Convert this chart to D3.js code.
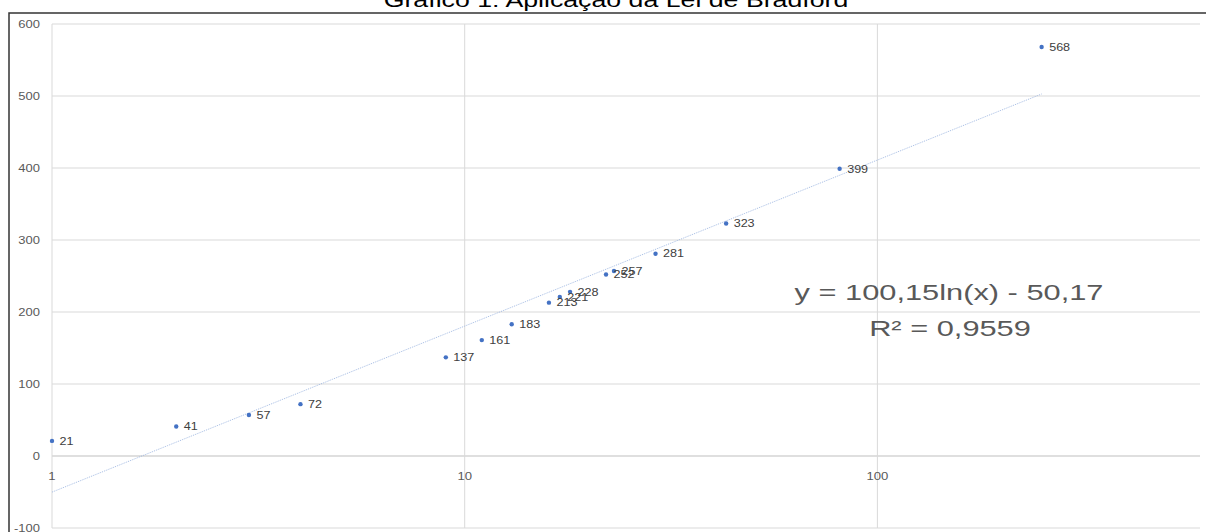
<!DOCTYPE html>
<html>
<head>
<meta charset="utf-8">
<script src="https://cdn.jsdelivr.net/npm/d3@7"></script>
<style>
  html, body { margin: 0; padding: 0; background: #fff; }
  svg { display: block; }
</style>
</head>
<body>
<svg id="chart" width="1206" height="532"></svg>
<script>
// Bradford's law: cumulative journals (log x) vs cumulative articles (y)
const chartTitle = "Gráfico 1: Aplicação da Lei de Bradford";
const journals = [1, 2, 3, 4, 9, 11, 13, 16, 17, 18, 22, 23, 29, 43, 81, 250];
const articles = [21, 41, 57, 72, 137, 161, 183, 213, 221, 228, 252, 257, 281, 323, 399, 568];
const yTicks = [-100, 0, 100, 200, 300, 400, 500, 600];
const xTicks = [1, 10, 100, 1000];
const xTickLabels = ["1", "10", "100", "1000"];

// logarithmic trend line y = a·ln(x) + b
const trendA = 100.15;
const trendB = -50.17;
const trendLabel = "y = 100,15ln(x) - 50,17";
const r2Label = "R² = 0,9559";

const W = 1206, H = 532;
const plotLeft = 52, plotRight = 1200, plotTop = 24, plotBottom = 528;
const decade = 412.7;

const x = d3.scaleLog().domain([1, 1000]).range([plotLeft, plotLeft + 3 * decade]);
const y = d3.scaleLinear().domain([-100, 600]).range([plotBottom, plotTop]);

const svg = d3.select("#chart");
const FONT = "'Liberation Sans', Arial, sans-serif";
const EQ_FONT = "'Open Sans', 'Liberation Sans', sans-serif";

// text drawn with a horizontal stretch
function stretchedText(g, px, py, str, o) {
  return g.append("text")
    .attr("transform", `translate(${px},${py}) scale(${o.sx},1)`)
    .attr("text-anchor", o.anchor || "start")
    .attr("font-family", o.family || FONT)
    .attr("font-size", o.size)
    .attr("fill", o.fill)
    .text(str);
}

// horizontal gridlines
const grid = svg.append("g");
grid.selectAll("line.h").data(yTicks).join("line")
  .attr("class", "h")
  .attr("x1", plotLeft).attr("x2", plotRight)
  .attr("y1", d => y(d)).attr("y2", d => y(d))
  .attr("stroke", d => d === 0 ? "#bfbfbf" : "#d9d9d9")
  .attr("stroke-width", 1);

// vertical gridlines
grid.selectAll("line.v").data(xTicks.filter(d => x(d) <= plotRight)).join("line")
  .attr("class", "v")
  .attr("x1", d => x(d)).attr("x2", d => x(d))
  .attr("y1", plotTop).attr("y2", plotBottom)
  .attr("stroke", "#d9d9d9")
  .attr("stroke-width", 1);

// y tick labels
const yLab = svg.append("g");
yTicks.forEach(v => {
  stretchedText(yLab, 40, y(v) + 3.6, String(v), { sx: 1.3, size: 10, fill: "#595959", anchor: "end" });
});

// x tick labels, sitting under the zero line
const xLab = svg.append("g");
xTicks.forEach((v, i) => {
  if (x(v) > W) return;
  stretchedText(xLab, x(v), y(0) + 23.5, xTickLabels[i], { sx: 1.25, size: 10.5, fill: "#595959", anchor: "middle" });
});

// trend line
const xLast = d3.max(journals);
const trendPts = d3.range(0, 61).map(i => Math.pow(xLast, i / 60));
svg.append("path")
  .datum(trendPts)
  .attr("d", d3.line().x(d => x(d)).y(d => y(trendA * Math.log(d) + trendB)))
  .attr("fill", "none")
  .attr("stroke", "#9bb4e0")
  .attr("stroke-width", 0.9)
  .attr("stroke-dasharray", "1,1");

// points
const pts = journals.map((j, i) => ({ j, a: articles[i] }));
svg.append("g").selectAll("circle").data(pts).join("circle")
  .attr("cx", d => x(d.j))
  .attr("cy", d => y(d.a))
  .attr("r", 2.2)
  .attr("fill", "#4472c4");

// data labels
const dLab = svg.append("g");
pts.forEach(d => {
  stretchedText(dLab, x(d.j) + 7.5, y(d.a) + 3.8, String(d.a), { sx: 1.2, size: 10.5, fill: "#404040" });
});

// equation and R²
const eqG = svg.append("g");
stretchedText(eqG, 949, 299.5, trendLabel, { sx: 1.4, size: 22, fill: "#595959", anchor: "middle" });
stretchedText(eqG, 950, 335.5, r2Label, { sx: 1.4, size: 22, fill: "#595959", anchor: "middle" });

// frame
svg.append("path")
  .attr("d", `M9,${H} V13 H${W}`)
  .attr("fill", "none")
  .attr("stroke", "#333")
  .attr("stroke-width", 1.5);

// title
stretchedText(svg, 616, 7, chartTitle, { sx: 1.37, size: 19.5, fill: "#000", anchor: "middle" });
</script>
</body>
</html>
